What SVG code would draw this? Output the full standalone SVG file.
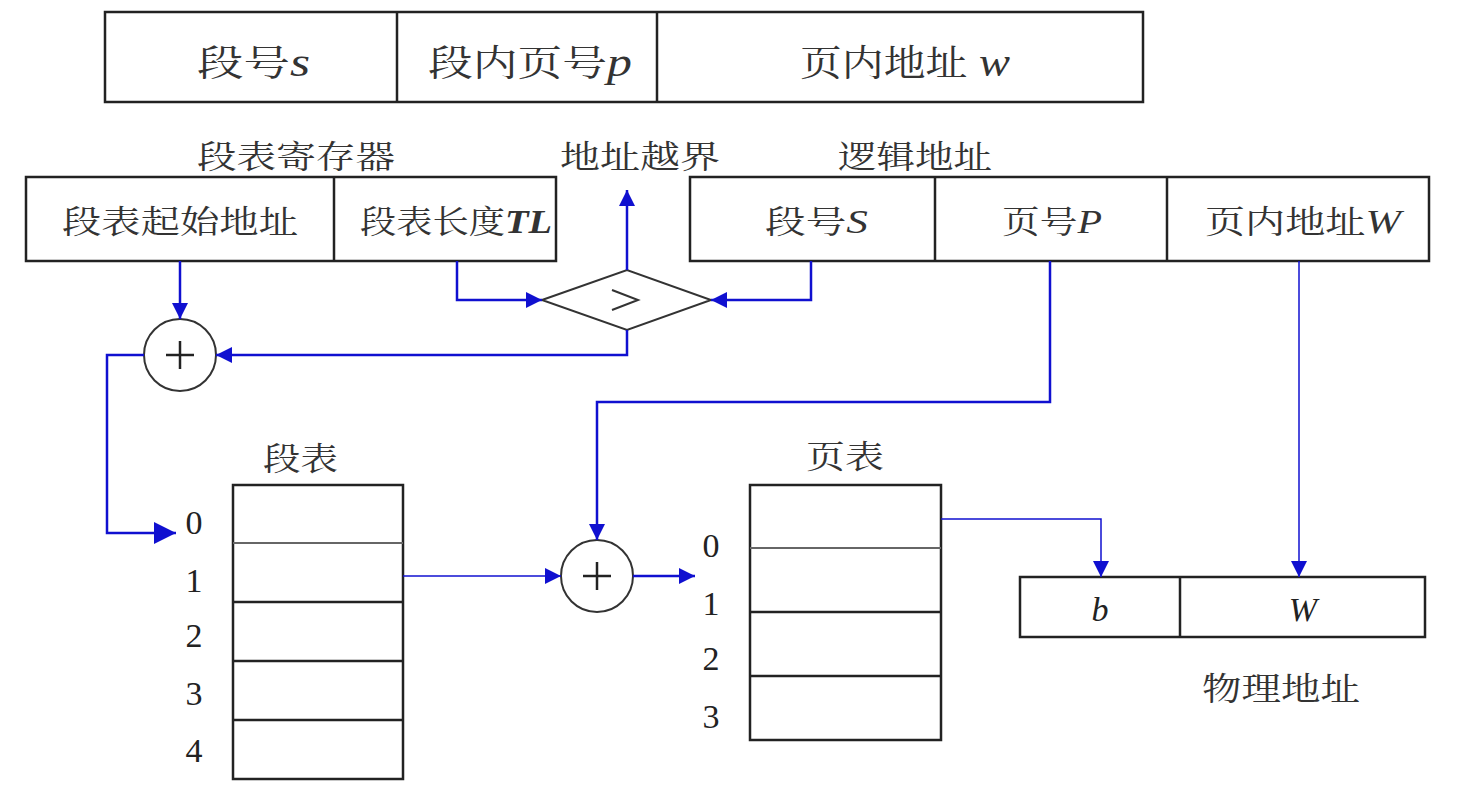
<svg xmlns="http://www.w3.org/2000/svg" width="1462" height="796" viewBox="0 0 1462 796">
<defs>
<marker id="ahL" viewBox="0 0 10 10" refX="10" refY="5" markerWidth="36" markerHeight="22" markerUnits="userSpaceOnUse" orient="auto">
<path d="M0,0 L10,5 L0,10 z" fill="#1010d0"/>
</marker>
<marker id="ahM" viewBox="0 0 10 10" refX="10" refY="5" markerWidth="22" markerHeight="16" markerUnits="userSpaceOnUse" orient="auto">
<path d="M0,0 L10,5 L0,10 z" fill="#1010d0"/>
</marker>
</defs>
<style>
.box{fill:#fff;stroke:#222;stroke-width:2.5}
.ln{stroke:#222;stroke-width:2.5;fill:none}
.thin{stroke:#666;stroke-width:2;fill:none}
.c{stroke:#1010d0;stroke-width:2.5;fill:none;marker-end:url(#ahM)}
.cl{stroke:#1010d0;stroke-width:2.5;fill:none;marker-end:url(#ahL)}
.ct{stroke:#1010d0;stroke-width:1.5;fill:none;marker-end:url(#ahM)}
.t{font-family:"Noto Serif CJK SC","Noto Sans CJK SC",serif;font-size:32px;fill:#333}
.tb{font-family:"Noto Serif CJK SC","Noto Sans CJK SC",serif;font-size:36px;fill:#333}
.n{font-family:"Liberation Serif",serif;font-size:34px;fill:#222}
.i{font-family:"Liberation Serif",serif;font-style:italic}
</style>
<rect width="1462" height="796" fill="#fff"/>

<g id="top-format">
<rect class="box" x="105" y="12" width="1038" height="90"/>
<line class="ln" x1="397" y1="12" x2="397" y2="102"/>
<line class="ln" x1="657" y1="12" x2="657" y2="102"/>
<text class="tb" x="197" y="76" textLength="113" lengthAdjust="spacingAndGlyphs">段号<tspan class="i" font-size="40">s</tspan></text>
<text class="tb" x="428" y="76" textLength="204" lengthAdjust="spacingAndGlyphs">段内页号<tspan class="i" font-size="40">p</tspan></text>
<text class="tb" x="800" y="76" textLength="210" lengthAdjust="spacingAndGlyphs">页内地址<tspan class="i" font-size="40"> w</tspan></text>
</g>

<g id="seg-register">
<text class="t" x="197" y="168" textLength="198" lengthAdjust="spacingAndGlyphs">段表寄存器</text>
<rect class="box" x="26" y="177" width="530" height="84"/>
<line class="ln" x1="334" y1="177" x2="334" y2="261"/>
<text class="t" x="62" y="233" textLength="236" lengthAdjust="spacingAndGlyphs">段表起始地址</text>
<text class="t" x="360" y="233" textLength="192" lengthAdjust="spacingAndGlyphs">段表长度<tspan class="i" font-weight="bold" font-size="34">TL</tspan></text>
</g>

<g id="overflow-label">
<text class="t" x="560" y="168" textLength="160" lengthAdjust="spacingAndGlyphs">地址越界</text>
</g>

<g id="logical-address">
<text class="t" x="838" y="168" textLength="154" lengthAdjust="spacingAndGlyphs">逻辑地址</text>
<rect class="box" x="690" y="177" width="739" height="84"/>
<line class="ln" x1="935" y1="177" x2="935" y2="261"/>
<line class="ln" x1="1167" y1="177" x2="1167" y2="261"/>
<text class="t" x="765" y="233" textLength="103" lengthAdjust="spacingAndGlyphs">段号<tspan class="i" font-size="34">S</tspan></text>
<text class="t" x="1002" y="233" textLength="100" lengthAdjust="spacingAndGlyphs">页号<tspan class="i" font-size="34">P</tspan></text>
<text class="t" x="1205" y="233" textLength="196" lengthAdjust="spacingAndGlyphs">页内地址<tspan class="i" font-size="34">W</tspan></text>
</g>

<g id="compare">
<polygon points="542,300 627,270 711,300 627,330" fill="#fff" stroke="#333" stroke-width="2"/>
<path d="M612,290 L638,300 L612,310" stroke="#333" stroke-width="2" fill="none"/>
</g>

<g id="adder1">
<circle cx="180" cy="355" r="36" fill="#fff" stroke="#333" stroke-width="2"/>
<line class="ln" x1="166" y1="355" x2="194" y2="355" stroke-width="2"/>
<line class="ln" x1="180" y1="341" x2="180" y2="369" stroke-width="2"/>
</g>

<g id="seg-table">
<text class="t" x="263" y="470" textLength="75" lengthAdjust="spacingAndGlyphs">段表</text>
<rect class="box" x="233" y="485" width="170" height="294"/>
<line class="thin" x1="233" y1="543" x2="403" y2="543"/>
<line class="ln" x1="233" y1="602" x2="403" y2="602"/>
<line class="ln" x1="233" y1="661" x2="403" y2="661"/>
<line class="ln" x1="233" y1="720" x2="403" y2="720"/>
<text class="n" x="194" y="534" text-anchor="middle">0</text>
<text class="n" x="194" y="592" text-anchor="middle">1</text>
<text class="n" x="194" y="647" text-anchor="middle">2</text>
<text class="n" x="194" y="705" text-anchor="middle">3</text>
<text class="n" x="194" y="762" text-anchor="middle">4</text>
</g>

<g id="adder2">
<circle cx="597" cy="576" r="36" fill="#fff" stroke="#333" stroke-width="2"/>
<line class="ln" x1="583" y1="576" x2="611" y2="576" stroke-width="2"/>
<line class="ln" x1="597" y1="562" x2="597" y2="590" stroke-width="2"/>
</g>

<g id="page-table">
<text class="t" x="806" y="468" textLength="78" lengthAdjust="spacingAndGlyphs">页表</text>
<rect class="box" x="750" y="485" width="191" height="255"/>
<line class="thin" x1="750" y1="548" x2="941" y2="548"/>
<line class="ln" x1="750" y1="612" x2="941" y2="612"/>
<line class="ln" x1="750" y1="676" x2="941" y2="676"/>
<text class="n" x="711" y="557" text-anchor="middle">0</text>
<text class="n" x="711" y="615" text-anchor="middle">1</text>
<text class="n" x="711" y="670" text-anchor="middle">2</text>
<text class="n" x="711" y="728" text-anchor="middle">3</text>
</g>

<g id="physical-address">
<rect class="box" x="1020" y="577" width="405" height="60"/>
<line class="ln" x1="1180" y1="577" x2="1180" y2="637"/>
<text class="n i" x="1100" y="621" text-anchor="middle" font-size="36">b</text>
<text class="n i" x="1303" y="621" text-anchor="middle" font-size="36">W</text>
<text class="t" x="1202" y="700" textLength="158" lengthAdjust="spacingAndGlyphs">物理地址</text>
</g>

<g id="connectors">
<path class="c" d="M627,270 L627,190"/>
<path class="c" d="M457,261 L457,300 L542,300"/>
<path class="c" d="M811,261 L811,300 L711,300"/>
<path class="c" d="M627,330 L627,355 L216,355"/>
<path class="c" d="M180,261 L180,319"/>
<path class="cl" d="M144,355 L107,355 L107,533 L176,533"/>
<path class="ct" d="M403,576 L561,576"/>
<path class="c" d="M633,576 L695,576"/>
<path class="c" d="M1050,261 L1050,402 L597,402 L597,540"/>
<path class="ct" d="M941,519 L1101,519 L1101,577"/>
<path class="ct" d="M1299,261 L1299,577"/>
</g>
</svg>
